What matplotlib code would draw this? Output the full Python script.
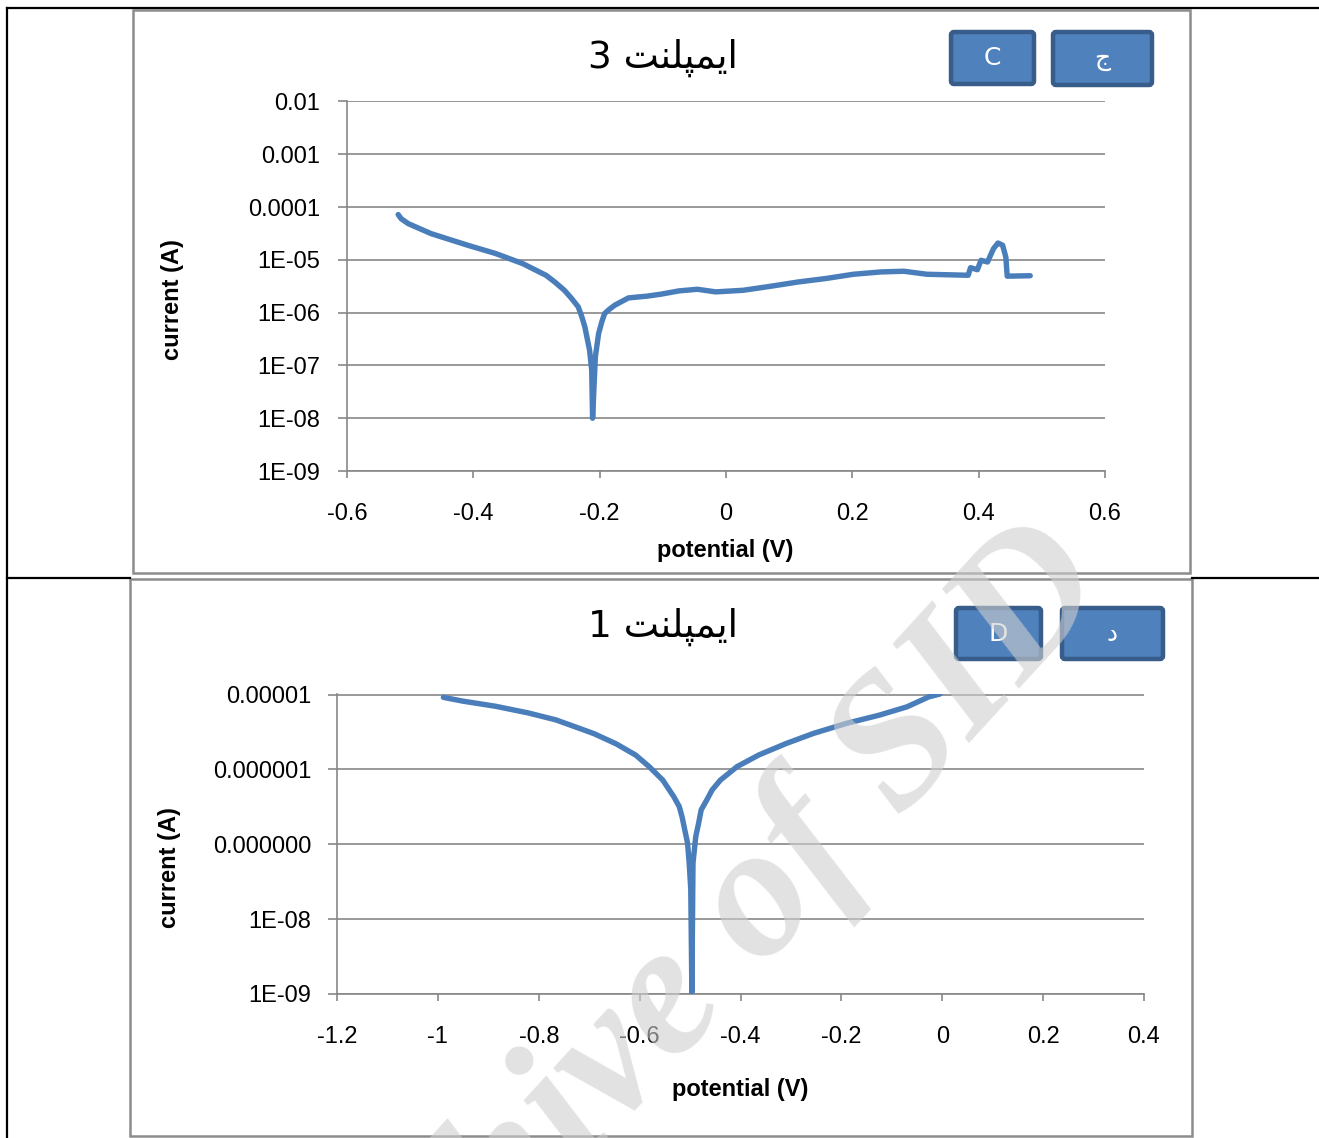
import matplotlib
matplotlib.use('Agg')
import matplotlib.pyplot as plt
from matplotlib.patches import FancyBboxPatch, Rectangle
from matplotlib.ticker import NullLocator

# implant 3 (top panel) - potential (V) / current (A)
pot_imp3 = [-0.519, -0.5142, -0.503, -0.467, -0.409, -0.365, -0.322, -0.285, -0.2707, -0.256,
            -0.2452, -0.234, -0.2286, -0.2235, -0.216, -0.2126, -0.2112, -0.2068, -0.2017, -0.1966,
            -0.1922, -0.1849, -0.1762, -0.1545, -0.1254, -0.1035, -0.0744, -0.0454, -0.0163, 0.0272,
            0.0709, 0.1145, 0.1582, 0.2017, 0.2454, 0.2816, 0.318, 0.3834, 0.3871, 0.398,
            0.4037, 0.414, 0.4235, 0.4306, 0.4379, 0.443, 0.4452, 0.4816]
cur_imp3 = [7.2e-5, 6.0e-5, 4.85e-5, 3.14e-5, 1.89e-5, 1.32e-5, 8.5e-6, 5.1e-6, 3.77e-6, 2.66e-6,
            1.9e-6, 1.29e-6, 8.6e-7, 5.4e-7, 1.95e-7, 8.1e-8, 1.0e-8, 1.46e-7, 4.0e-7, 6.7e-7,
            9.6e-7, 1.15e-6, 1.38e-6, 1.9e-6, 2.05e-6, 2.23e-6, 2.58e-6, 2.77e-6, 2.47e-6, 2.65e-6,
            3.16e-6, 3.81e-6, 4.43e-6, 5.33e-6, 5.9e-6, 6.08e-6, 5.33e-6, 5.1e-6, 7.1e-6, 6.5e-6,
            9.8e-6, 9.1e-6, 1.63e-5, 2.08e-5, 1.89e-5, 1.13e-5, 4.9e-6, 5.0e-6]

# implant 1 (bottom panel)
pot_imp1 = [-0.989, -0.951, -0.886, -0.821, -0.766, -0.712, -0.690, -0.6465, -0.608, -0.581,
            -0.554, -0.532, -0.5214, -0.516, -0.5105, -0.505, -0.5017, -0.4986, -0.4964, -0.4942,
            -0.4887, -0.483, -0.478, -0.467, -0.4562, -0.440, -0.407, -0.364, -0.309, -0.255,
            -0.190, -0.1245, -0.070, -0.0265, -0.0045]
cur_imp1 = [9.2e-6, 8.2e-6, 7.0e-6, 5.7e-6, 4.6e-6, 3.4e-6, 3.0e-6, 2.2e-6, 1.56e-6, 1.09e-6,
            7.2e-7, 4.3e-7, 3.19e-7, 2.35e-7, 1.56e-7, 1.04e-7, 5.6e-8, 2.5e-8, 1.05e-9, 5.6e-8,
            1.27e-7, 1.92e-7, 2.88e-7, 3.9e-7, 5.33e-7, 7.2e-7, 1.09e-6, 1.56e-6, 2.23e-6, 3.04e-6,
            4.13e-6, 5.33e-6, 6.87e-6, 9.35e-6, 1.02e-5]

xticks_top = [-0.6, -0.4, -0.2, 0, 0.2, 0.4, 0.6]
xlabels_top = ['-0.6', '-0.4', '-0.2', '0', '0.2', '0.4', '0.6']
yticks_top = [1e-2, 1e-3, 1e-4, 1e-5, 1e-6, 1e-7, 1e-8, 1e-9]
ylabels_top = ['0.01', '0.001', '0.0001', '1E-05', '1E-06', '1E-07', '1E-08', '1E-09']

xticks_bot = [-1.2, -1, -0.8, -0.6, -0.4, -0.2, 0, 0.2, 0.4]
xlabels_bot = ['-1.2', '-1', '-0.8', '-0.6', '-0.4', '-0.2', '0', '0.2', '0.4']
yticks_bot = [1e-5, 1e-6, 1e-7, 1e-8, 1e-9]
ylabels_bot = ['0.00001', '0.000001', '0.000000', '1E-08', '1E-09']

# "ایمپلنت" written with presentation forms in visual order (no shaping engine in matplotlib)
implant_word = '\uFE96\uFEE8\uFEE0\uFB59\uFEE4\uFBFE\uFE8D'

W, H = 1319, 1138
plt.rcParams['font.family'] = ['Liberation Sans', 'DejaVu Sans']
fig = plt.figure(figsize=(W / 100, H / 100), dpi=100)

grid_c = '#878787'
line_c = '#4A7EBB'


def px_rect(x0, y0, x1, y1):
    return [x0 / W, 1 - y1 / H, (x1 - x0) / W, (y1 - y0) / H]


def style_panel(ax, pot, cur, xticks, xlabels, yticks, ylabels, ylim, ypad):
    ax.plot(pot, cur, color=line_c, lw=3.9, solid_capstyle='round', solid_joinstyle='round', zorder=3)
    ax.set_yscale('log')
    ax.set_xlim(xticks[0], xticks[-1])
    ax.set_ylim(*ylim)
    ax.set_yticks(yticks)
    ax.set_yticklabels(ylabels)
    ax.yaxis.set_minor_locator(NullLocator())
    ax.set_xticks(xticks)
    ax.set_xticklabels(xlabels)
    ax.set_facecolor('none')
    ax.grid(axis='y', color=grid_c, lw=1.2)
    ax.set_axisbelow(True)
    for s in ['top', 'right']:
        ax.spines[s].set_visible(False)
    for s in ['left', 'bottom']:
        ax.spines[s].set_color(grid_c)
        ax.spines[s].set_linewidth(1.2)
    ax.tick_params(axis='y', length=6.5, width=1.2, color=grid_c, pad=ypad, labelsize=17)
    ax.tick_params(axis='x', length=5, width=1.2, color=grid_c, pad=18, labelsize=17)


ax1 = fig.add_axes(px_rect(347, 101, 1105, 471))
style_panel(ax1, pot_imp3, cur_imp3, xticks_top, xlabels_top, yticks_top, ylabels_top,
            (1e-9, 1.02e-2), 13)
ax1.set_xlabel('potential (V)', fontsize=17, fontweight='bold')
ax1.xaxis.set_label_coords(0.4987, -0.216)
ax1.xaxis.label.set_verticalalignment('center')
ax1.set_ylabel('current (A)', fontsize=17, fontweight='bold')
ax1.yaxis.set_label_coords(-0.2296, 0.462)
ax1.yaxis.label.set_verticalalignment('center')

ax2 = fig.add_axes(px_rect(337, 694, 1144, 994))
style_panel(ax2, pot_imp1, cur_imp1, xticks_bot, xlabels_bot, yticks_bot, ylabels_bot,
            (1e-9, 1.02e-5), 12)
ax2.set_xlabel('potential (V)', fontsize=17, fontweight='bold')
ax2.xaxis.set_label_coords(0.4994, -0.3167)
ax2.xaxis.label.set_verticalalignment('center')
ax2.set_ylabel('current (A)', fontsize=17, fontweight='bold')
ax2.yaxis.set_label_coords(-0.207, 0.42)
ax2.yaxis.label.set_verticalalignment('center')

# page overlay in pixel coordinates: table rules, chart frames, titles, labels, watermark
ov = fig.add_axes([0, 0, 1, 1], zorder=10)
ov.set_xlim(0, W)
ov.set_ylim(H, 0)
ov.axis('off')
ov.patch.set_alpha(0)

ov.plot([7, W], [8, 8], color='black', lw=1.6)
ov.plot([7, 7], [8, H], color='black', lw=1.6)
ov.plot([7, 130], [578, 578], color='black', lw=1.6)
ov.plot([1192, W], [578, 578], color='black', lw=1.6)

ov.add_patch(Rectangle((133, 10), 1057, 563, fill=False, ec='#8C8C8C', lw=1.8))
ov.add_patch(Rectangle((130, 579), 1062, 557, fill=False, ec='#8C8C8C', lw=1.8))

ov.text(663, 58, '3 ' + implant_word, fontsize=27, family=['DejaVu Sans'], ha='center', va='center')
ov.text(663, 627, '1 ' + implant_word, fontsize=27, family=['DejaVu Sans'], ha='center', va='center')

boxes = [(948, 29, 1037, 87, 'C'), (1050, 29, 1155, 88, '\u062C'),
         (953, 605, 1044, 662, 'D'), (1059, 605, 1166, 662, '\u062F')]
for x0, y0, x1, y1, lab in boxes:
    ov.add_patch(FancyBboxPatch((x0 + 3, y0 + 3), x1 - x0 - 6, y1 - y0 - 6,
                                boxstyle='round,pad=0,rounding_size=3',
                                fc='#4F81BD', ec='#385D8A', lw=3.2))
    ov.text((x0 + x1) / 2, (y0 + y1) / 2, lab, color='white', fontsize=18,
            family=['DejaVu Sans'], ha='center', va='center')

ov.text(685, 995, 'Archive of SID', fontsize=136, family=['Liberation Serif'],
        fontweight='bold', fontstyle='italic', color='#cfcfcf', alpha=0.6,
        rotation=47.5, rotation_mode='anchor', ha='center', va='center', zorder=20)

fig.savefig('out.png', dpi=100)
